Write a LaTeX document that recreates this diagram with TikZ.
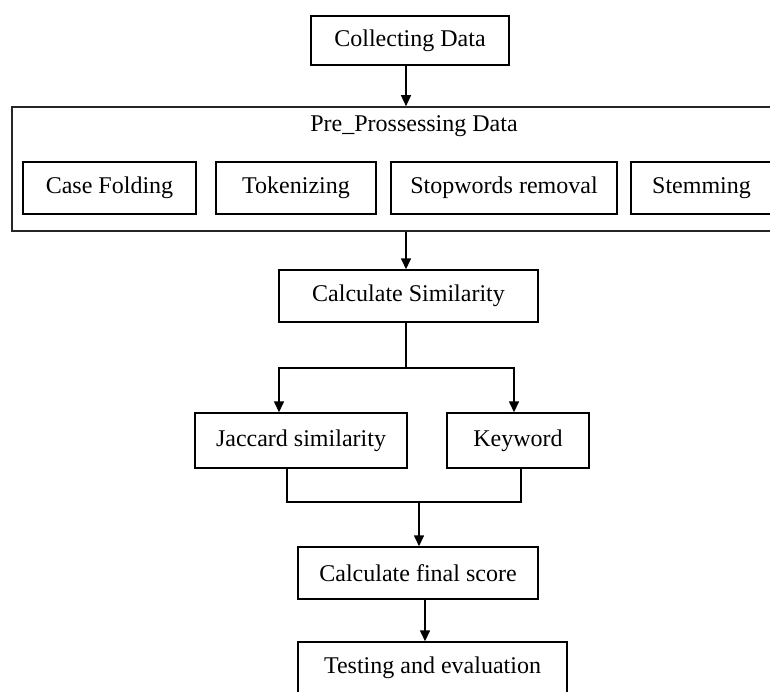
\documentclass[tikz,border=0pt]{standalone}
\usepackage{fontspec}
\setmainfont{Liberation Serif}
\usepackage{tikz}
\usetikzlibrary{arrows.meta, positioning}

\begin{document}
\begin{tikzpicture}[
  x=0.5pt, y=-0.5pt,
  every node/.style={font=\fontsize{12pt}{14pt}\selectfont},
  stagebox/.style={rectangle, draw=black, line width=0.7pt, fill=white,
                   minimum height=26pt, inner sep=2pt, text centered},
  groupbox/.style={rectangle, draw=black!85, line width=0.8pt},
  arrow/.style={-{Triangle[length=5.5pt, width=5pt]}, line width=0.7pt, black},
  link/.style={line width=0.7pt, black}
]
\useasboundingbox (0,0) rectangle (770,691);

\node[stagebox, minimum width=99pt, minimum height=24.5pt] (collect) at (410,40.5) {Collecting Data};

\node[groupbox, minimum width=402pt, minimum height=62pt] (pre) at (414,169) {};
\node (pretitle) at (414,126) {Pre\_Prossessing Data};

\node[stagebox, minimum width=86.5pt] (casef) at (109.5,188) {Case Folding};
\node[stagebox, minimum width=80pt]   (token) at (296,188)   {Tokenizing};
\node[stagebox, minimum width=113pt]  (stopw) at (504,188)   {Stopwords removal};
\node[stagebox, minimum width=70.5pt] (stem)  at (701.5,188) {Stemming};

\node[stagebox, minimum width=129.5pt] (calc) at (408.5,296) {Calculate Similarity};

\node[stagebox, minimum width=106pt, minimum height=27.5pt] (jacc) at (301,440.5) {Jaccard similarity};
\node[stagebox, minimum width=71pt, minimum height=27.5pt]  (key)  at (518,440.5) {Keyword};

\node[stagebox, minimum width=120pt]   (final) at (418,573)   {Calculate final score};
\node[stagebox, minimum width=134.5pt] (test)  at (432.5,668) {Testing and evaluation};

\coordinate (split) at (406,368);
\coordinate (merge) at (419,502);

\draw[arrow] ([xshift=-2pt]collect.south) -- ([xshift=-2pt]collect.south |- pre.north);
\draw[arrow] (split |- pre.south) -- (split |- calc.north);
\draw[link] (split |- calc.south) -- (split);
\draw[arrow] (split) -| ([xshift=-11pt]jacc.north);
\draw[arrow] (split) -| ([xshift=-2pt]key.north);
\draw[link] ([xshift=-7pt]jacc.south) |- (merge) -| ([xshift=1.5pt]key.south);
\draw[arrow] (merge) -- (merge |- final.north);
\draw[arrow] ([xshift=3.5pt]final.south) -- ([xshift=3.5pt]final.south |- test.north);
\end{tikzpicture}
\end{document}
